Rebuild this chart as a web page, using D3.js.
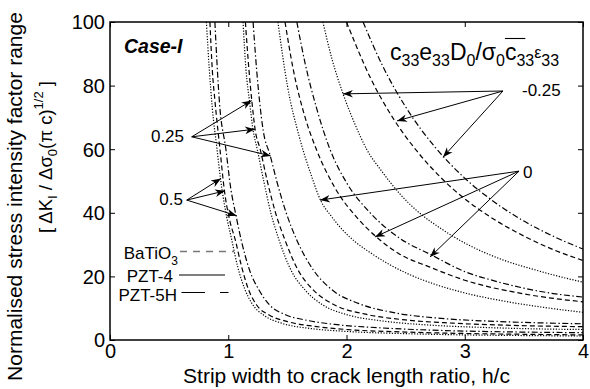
<!DOCTYPE html>
<html><head><meta charset="utf-8">
<script src="https://cdn.jsdelivr.net/npm/d3@7"></script>
<style>
body{margin:0;background:#fff}
svg{display:block}
text{font-family:"Liberation Sans",Arial,Helvetica,sans-serif;fill:#000}
</style>
</head><body>
<svg id="chart" width="590" height="389"></svg>
<script>
// ---------- data ----------
const xTicks = [0, 1, 2, 3, 4];
const yTicks = [0, 20, 40, 60, 80, 100];
const materials = ["BaTiO3", "PZT-4", "PZT-5H"];
const paramLabels = ["-0.25", "0", "0.25", "0.5"];

// [h/c, normalised SIF range]
const batio3_p050 = [[0.815,100],[0.84,85],[0.865,73],[0.905,60],[0.935,50.6],[0.98,40],[1.03,31.4],[1.08,23],[1.14,16],[1.2,11.5],[1.3,7.8],[1.45,5.3],[1.7,3.6],[2.0,2.7],[2.5,2.0],[3.0,1.6],[3.5,1.4],[4.0,1.25]];
const batio3_p025 = [[1.125,100],[1.15,85],[1.18,75],[1.21,66],[1.245,60],[1.3,50],[1.36,40],[1.43,31.4],[1.53,22],[1.65,15.7],[1.8,11],[2.0,8],[2.3,6],[2.7,4.7],[3.2,3.9],[3.6,3.5],[4.0,3.3]];
const batio3_z000 = [[1.42,100],[1.5,80],[1.6,64],[1.7,52],[1.78,44],[1.87,39],[1.97,34.5],[2.07,31],[2.2,27.5],[2.36,23.8],[2.52,20.8],[2.75,17.5],[3.0,14.8],[3.35,12.1],[3.7,10.1],[4.0,8.7]];
const batio3_m025 = [[1.80,100],[1.88,88],[1.97,77.5],[2.07,68],[2.17,60],[2.3,53],[2.45,46],[2.6,40.5],[2.8,35],[3.0,30.5],[3.3,25.5],[3.6,22],[3.85,19.5],[4.0,18.2]];

const pzt4_p050 = [[0.845,100],[0.865,85],[0.888,75],[0.93,60],[0.968,46.8],[1.01,38],[1.06,31.4],[1.11,23.5],[1.17,16],[1.24,11],[1.35,7.8],[1.5,5.8],[1.75,4.2],[2.0,3.3],[2.5,2.5],[3.0,2.05],[3.5,1.8],[4.0,1.6]];
const pzt4_p025 = [[1.145,100],[1.175,85],[1.2,75],[1.228,66],[1.27,60],[1.33,50],[1.4,40],[1.48,31.4],[1.59,22],[1.72,15.7],[1.9,11],[2.15,8.2],[2.5,6.3],[2.9,5.3],[3.4,4.6],[4.0,4.2]];
const pzt4_z000 = [[1.48,100],[1.55,85],[1.65,70],[1.75,59.5],[1.9,48],[2.1,38],[2.25,32.5],[2.45,27],[2.7,23],[3.0,18.8],[3.5,14.5],[4.0,12]];
const pzt4_m025 = [[2.0,100],[2.2,82.6],[2.4,69.4],[2.6,59.2],[2.8,51],[3.0,44.4],[3.25,37.9],[3.5,32.7],[3.75,28.4],[4.0,25]];

const pzt5h_p050 = [[0.887,100],[0.905,87],[0.925,75],[0.98,60],[1.02,48],[1.065,39.2],[1.11,31.4],[1.18,22],[1.26,15.7],[1.35,11],[1.48,8],[1.65,6.3],[1.9,4.9],[2.3,3.8],[2.8,3.0],[3.3,2.6],[4.0,2.3]];
const pzt5h_p025 = [[1.21,100],[1.24,85],[1.265,75],[1.295,66],[1.355,58],[1.41,50],[1.49,40],[1.58,31.4],[1.72,22],[1.88,15.7],[2.1,11.5],[2.4,8.6],[2.8,6.8],[3.3,5.8],[4.0,5.1]];
const pzt5h_z000 = [[1.58,100],[1.65,87],[1.75,72.5],[1.86,60],[2.0,49.5],[2.2,40],[2.45,32],[2.72,26.7],[3.0,21.5],[3.25,18.6],[3.5,16.3],[3.75,14.6],[4.0,13.5]];
const pzt5h_m025 = [[2.14,100],[2.3,86.6],[2.5,73.3],[2.75,60.6],[3.0,50.9],[3.25,43.4],[3.5,37.4],[3.75,32.6],[4.0,28.6]];

// annotation arrows (data units): origin, tips, label anchor
const arrowOrigins = [[3.323,78.3],[3.459,53.1],[0.691,63.9],[0.649,44.0]];
const arrowTips = [
  [[1.970,77.4],[2.427,68.9],[2.816,57.5]],
  [[1.776,44.0],[2.241,32.4],[2.706,26.1]],
  [[1.198,75.3],[1.226,66.3],[1.359,57.9]],
  [[0.939,50.8],[0.973,46.9],[1.071,39.1]]
];
const labelAnchors = [[3.484,76.7],[3.493,50.9],[0.626,62.3],[0.617,42.5]];

// ---------- chart ----------
const svg = d3.select("#chart");
const L = 110, R = 583, T = 22, B = 340;
const x = d3.scaleLinear().domain([0,4]).range([L,R]);
const y = d3.scaleLinear().domain([0,100]).range([B,T]);

const series = [
  {m:0,p:batio3_p050},{m:0,p:batio3_p025},{m:0,p:batio3_z000},{m:0,p:batio3_m025},
  {m:1,p:pzt4_p050},{m:1,p:pzt4_p025},{m:1,p:pzt4_z000},{m:1,p:pzt4_m025},
  {m:2,p:pzt5h_p050},{m:2,p:pzt5h_p025},{m:2,p:pzt5h_z000},{m:2,p:pzt5h_m025}
];
const dashes = ["1.2,1.6","5,3","6,2.5,1.4,2.5"];

const defs = svg.append("defs");
defs.append("clipPath").attr("id","clip").append("rect")
  .attr("x",L).attr("y",T).attr("width",R-L).attr("height",B-T);
defs.append("marker").attr("id","ah").attr("viewBox","-10 -5 11 10")
  .attr("refX",0).attr("refY",0).attr("markerWidth",11).attr("markerHeight",10)
  .attr("markerUnits","userSpaceOnUse").attr("orient","auto")
  .append("path").attr("d","M0,0 L-10,-3.8 L-7,0 L-10,3.8 Z").attr("fill","#000");

const line = d3.line().x(d=>x(d[0])).y(d=>y(d[1])).curve(d3.curveMonotoneX);
svg.append("g").attr("clip-path","url(#clip)")
  .selectAll("path").data(series).join("path")
  .attr("d",d=>line(d.p)).attr("fill","none").attr("stroke","#000")
  .attr("stroke-width",1.2).attr("stroke-dasharray",d=>dashes[d.m]);

// axes
const tickFont = "20px";
const gx = svg.append("g").attr("transform",`translate(0,${B})`)
  .call(d3.axisBottom(x).tickValues(xTicks).tickFormat(d3.format("d")).tickSizeInner(-5).tickSizeOuter(0).tickPadding(4));
const gxt = svg.append("g").attr("transform",`translate(0,${T})`)
  .call(d3.axisTop(x).tickValues(xTicks).tickFormat("").tickSizeInner(-5).tickSizeOuter(0));
const gy = svg.append("g").attr("transform",`translate(${L},0)`)
  .call(d3.axisLeft(y).tickValues(yTicks).tickFormat(d3.format("d")).tickSizeInner(-5).tickSizeOuter(0).tickPadding(5));
const gyr = svg.append("g").attr("transform",`translate(${R},0)`)
  .call(d3.axisRight(y).tickValues(yTicks).tickFormat("").tickSizeInner(-5).tickSizeOuter(0));
[gx,gxt,gy,gyr].forEach(g=>{
  g.select(".domain").remove();
  g.selectAll(".tick line").attr("stroke","#000").attr("stroke-width",1);
  g.selectAll("text").style("font-size",tickFont).attr("font-family",null).attr("fill","#000");
});
gy.selectAll(".tick text").attr("dy","0.34em");
svg.append("rect").attr("x",L).attr("y",T).attr("width",R-L).attr("height",B-T)
  .attr("fill","none").attr("stroke","#000").attr("stroke-width",1.5);

// axis labels
svg.append("text").attr("x",(L+R)/2).attr("y",383).attr("text-anchor","middle")
  .style("font-size","21px").text("Strip width to crack length ratio, h/c");
svg.append("text").attr("transform","translate(22,196.5) rotate(-90)").attr("text-anchor","middle")
  .style("font-size","21px").text("Normalised stress intensity factor range");
const yl2 = svg.append("text").attr("transform","translate(52,157) rotate(-90)").attr("text-anchor","middle")
  .style("font-size","18.5px");
yl2.append("tspan").text("[ \u0394K");
yl2.append("tspan").attr("dy",5).style("font-size","13px").text("I");
yl2.append("tspan").attr("dy",-5).text(" / \u0394\u03c3");
yl2.append("tspan").attr("dy",5).style("font-size","13px").text("0");
yl2.append("tspan").attr("dy",-5).text("(\u03c0 c)");
yl2.append("tspan").attr("dy",-9).style("font-size","13px").text("1/2");
yl2.append("tspan").attr("dy",9).text(" ]");

// Case-I
svg.append("text").attr("x",124).attr("y",53).style("font-size","19.5px")
  .style("font-weight","bold").style("font-style","italic").text("Case-I");

// title
const tt = svg.append("text").attr("x",390).attr("y",60).style("font-size","23px");
const parts = [["c",0],["33",1],["e",0],["33",1],["D",0],["0",1],["/",0],["\u03c3",0],["0",1],["c",0],["33",1],["\u03b5",2],["33",1]];
let cur = 0;
parts.forEach(([s,k])=>{
  const target = k===1?6:(k===2?-2:0);
  tt.append("tspan").attr("dy",target-cur).style("font-size",k===0?"23px":"16px").text(s);
  cur = target;
});
const tn = tt.node();
const ox0 = tn.getStartPositionOfChar(11).x, ox1 = tn.getEndPositionOfChar(12).x;
svg.append("line").attr("x1",ox0).attr("x2",ox1).attr("y1",38.5).attr("y2",38.5)
  .attr("stroke","#000").attr("stroke-width",1.1);

// arrows
const ag = svg.append("g");
arrowOrigins.forEach((o,i)=>{
  arrowTips[i].forEach(t=>{
    ag.append("line").attr("x1",x(o[0])).attr("y1",y(o[1])).attr("x2",x(t[0])).attr("y2",y(t[1]))
      .attr("stroke","#000").attr("stroke-width",1).attr("marker-end","url(#ah)");
  });
  svg.append("text").attr("x",x(labelAnchors[i][0])).attr("y",y(labelAnchors[i][1]))
    .attr("text-anchor",i<2?"start":"end").style("font-size","17px").text(paramLabels[i]);
});

// legend
const lg = svg.append("g");
const t1 = lg.append("text").attr("x",178).attr("y",259).attr("text-anchor","end").style("font-size","17px");
t1.append("tspan").text("BaTiO");
t1.append("tspan").attr("dy",6).style("font-size","12px").text("3");
lg.append("line").attr("x1",180).attr("x2",234).attr("y1",251.5).attr("y2",251.5)
  .attr("stroke","#777").attr("stroke-width",1.3).attr("stroke-dasharray","7,6");
lg.append("text").attr("x",173).attr("y",282).attr("text-anchor","end").style("font-size","17px").text("PZT-4");
lg.append("line").attr("x1",179).attr("x2",225).attr("y1",275).attr("y2",275)
  .attr("stroke","#000").attr("stroke-width",1.2);
lg.append("text").attr("x",177).attr("y",301).attr("text-anchor","end").style("font-size","17px").text("PZT-5H");
lg.append("line").attr("x1",181.5).attr("x2",228.5).attr("y1",292.5).attr("y2",292.5)
  .attr("stroke","#000").attr("stroke-width",1.2).attr("stroke-dasharray","23.5,15,8.5");
</script>
</body></html>
